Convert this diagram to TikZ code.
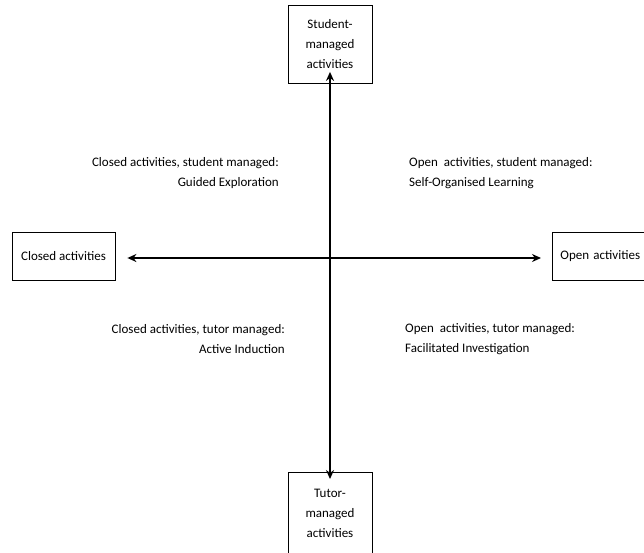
\documentclass[tikz,border=0pt]{standalone}
\usepackage{fontspec}
\setmainfont{Carlito}
\usetikzlibrary{arrows.meta}
\begin{document}
\begin{tikzpicture}[x=1pt,y=-1pt,
  every node/.style={font=\fontsize{13}{20}\selectfont},
  box/.style={draw,line width=0.8pt,inner sep=0pt,align=center},
  lab/.style={inner sep=0pt},
  axis/.style={line width=1.6pt,-{Stealth[length=9pt,width=8pt]}}]
\useasboundingbox (0,0) rectangle (644,552);
\clip (0,0) rectangle (644,552);
\node[box,minimum width=84pt,minimum height=78pt] (top) at (330,44.5) {Student-\\managed\\activities};
\node[box,minimum width=103pt,minimum height=48pt] (left) at (63.5,256) {\raisebox{-2pt}{Closed activities}};
\node[box,minimum width=100pt,minimum height=48pt,anchor=west,inner xsep=8pt,text width=84pt,align=left] (right) at (552,256) {Open activities};
\node[box,minimum width=84pt,minimum height=82pt,anchor=north] (bottom) at (330,472) {Tutor-\\managed\\activities};
\coordinate (c) at (330,258);
\draw[axis] (c) -- ([yshift=12pt]top.south);
\draw[axis] (c) -- ([yshift=-7pt]bottom.north);
\draw[axis] (c) -- ([xshift=12pt]left.east|-c);
\draw[axis] (c) -- ([xshift=-11pt]right.west|-c);
\node[lab,align=right,anchor=east] (ul) at (279,173.5) {Closed activities, student managed:\\Guided Exploration};
\node[lab,align=left,anchor=west] (ur) at (409,173.5) {Open\ \ activities, student managed:\\Self-Organised Learning};
\node[lab,align=right,anchor=east] (ll) at (285,339) {Closed activities, tutor managed:\\Active Induction};
\node[lab,align=left,anchor=west] (lr) at (405,339) {Open\ \ activities, tutor managed:\\Facilitated Investigation};
\end{tikzpicture}
\end{document}
